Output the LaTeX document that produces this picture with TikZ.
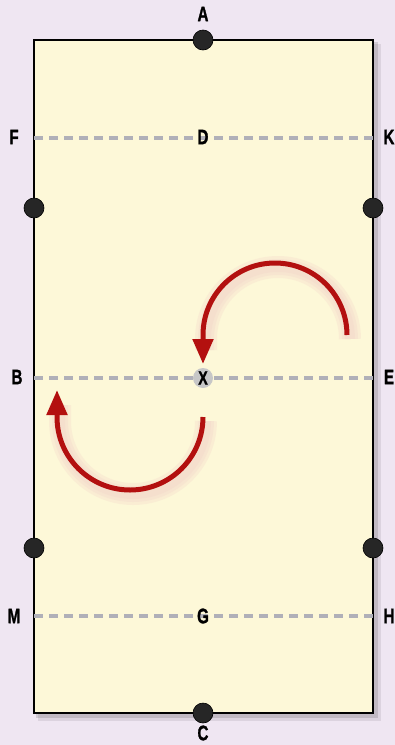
\documentclass[tikz,border=0pt]{standalone}
\usepackage{fontspec}
\setmainfont{Liberation Sans}
\newfontfamily\lblfont[FakeBold=1.5]{Liberation Sans}
\usetikzlibrary{arrows.meta}
\definecolor{bg}{HTML}{EFE6F2}
\definecolor{field}{HTML}{FDF8D8}
\definecolor{dashgray}{HTML}{B0B0B8}
\definecolor{arrowred}{HTML}{B3100F}
\definecolor{glow}{HTML}{F2CFC8}
\tikzset{
  lbl/.style={font=\lblfont\bfseries\fontsize{21}{21}\selectfont, inner sep=0pt, xscale=0.72},
  marker/.style={circle, fill=black!85, draw=black, line width=0.6pt, minimum size=20pt, inner sep=0pt},
  xmark/.style={circle, fill=black!22, minimum size=20pt, inner sep=0pt, font=\lblfont\bfseries\fontsize{19}{19}\selectfont},
  midline/.style={draw=dashgray, line width=3.2pt, dash pattern=on 9pt off 6pt},
  run/.style={draw=arrowred, line width=5pt, -{Triangle[length=25pt,width=20pt]}},
  runglow/.style={draw=glow, line width=#1, opacity=0.25},
}
\begin{document}
\begin{tikzpicture}[x=1pt,y=-1pt]
\fill[bg] (0,0) rectangle (395,745);
\useasboundingbox (0,0) rectangle (395,745);
% shadow
\fill[black, opacity=0.08] (38,44) rectangle (381,721);
\fill[black, opacity=0.12] (36,42) rectangle (378,718);
% field
\filldraw[fill=field, draw=black, line width=2pt] (34,40) rectangle (373,713);
% dashed lines
\coordinate (dl) at (34,138); \coordinate (dr) at (373,138);
\coordinate (bl) at (34,378); \coordinate (br) at (373,378);
\coordinate (gl) at (34,616); \coordinate (gr) at (373,616);
\draw[midline] (dl) -- (dr);
\draw[midline] (bl) -- (br);
\draw[midline] (gl) -- (gr);
% labels
\node[lbl] (A) at (203,14) {A};
\node[lbl] (D) at (203,137) {D};
\node[lbl] (F) at (14,137) {F};
\node[lbl] (K) at (389,137) {K};
\node[lbl] (B) at (17,377) {B};
\node[lbl] (E) at (389,377) {E};
\node[lbl] (M) at (14,616) {M};
\node[lbl] (G) at (203,616) {G};
\node[lbl] (H) at (389,616) {H};
\node[lbl] (C) at (203,733) {C};
% markers
\node[marker] (m1) at (203,40) {};
\node[marker] (m2) at (34,208) {};
\node[marker] (m3) at (373,208) {};
\node[marker] (m4) at (34,548) {};
\node[marker] (m5) at (373,548) {};
\node[marker] (m6) at (203,713) {};
% X
\node[xmark] (X) at (203,378) {\scalebox{0.75}[1]{X}};
% arrow glows
\foreach \w in {22pt,16pt,10pt}{
\draw[runglow=\w] (350,339) arc[start angle=0, end angle=180, radius=72pt] -- (206,350);
\draw[runglow=\w] (206,421) arc[start angle=0, end angle=-180, radius=73pt] -- (60,405);
}
% arrows
\coordinate (a1s) at (347,335);
\coordinate (a2s) at (203,417);
\draw[run] (a1s) arc[start angle=0, end angle=180, radius=72pt] -- (203,364);
\draw[run] (a2s) arc[start angle=0, end angle=-180, radius=73pt] -- (57,390);
\end{tikzpicture}
\end{document}
